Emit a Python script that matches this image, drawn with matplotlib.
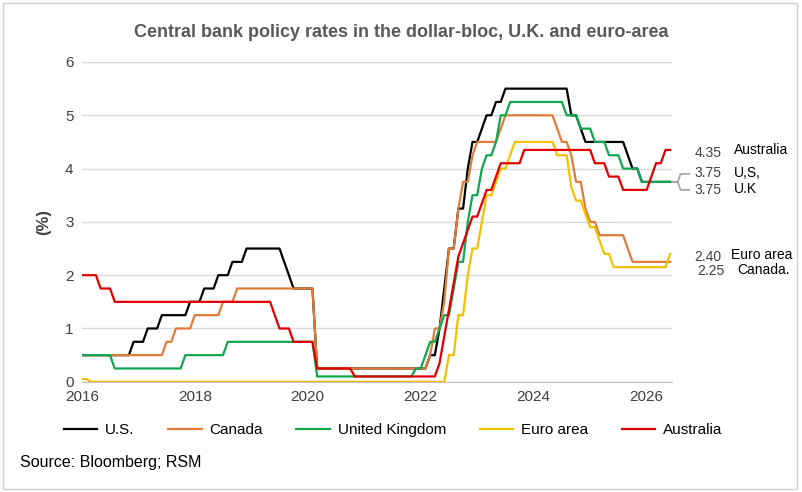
import numpy as np
import matplotlib.pyplot as plt
from matplotlib.patches import Rectangle

plt.rcParams['font.family'] = ['Liberation Sans', 'DejaVu Sans']

# policy rate change points: (year, month, rate)
us = [(2016, 1, 0.5), (2016, 12, 0.75), (2017, 3, 1.0), (2017, 6, 1.25), (2017, 12, 1.5),
      (2018, 3, 1.75), (2018, 6, 2.0), (2018, 9, 2.25), (2018, 12, 2.5), (2019, 8, 2.25),
      (2019, 9, 2.0), (2019, 10, 1.75), (2020, 3, 0.25), (2022, 3, 0.5), (2022, 5, 1.0),
      (2022, 6, 1.75), (2022, 7, 2.5), (2022, 9, 3.25), (2022, 11, 4.0), (2022, 12, 4.5),
      (2023, 2, 4.75), (2023, 3, 5.0), (2023, 5, 5.25), (2023, 7, 5.5), (2024, 9, 5.0),
      (2024, 11, 4.75), (2024, 12, 4.5), (2025, 9, 4.25), (2025, 10, 4.0), (2025, 12, 3.75)]
canada = [(2016, 1, 0.5), (2017, 7, 0.75), (2017, 9, 1.0), (2018, 1, 1.25), (2018, 7, 1.5),
          (2018, 10, 1.75), (2020, 3, 0.25), (2022, 3, 0.5), (2022, 4, 1.0), (2022, 6, 1.5),
          (2022, 7, 2.5), (2022, 9, 3.25), (2022, 10, 3.75), (2022, 12, 4.25), (2023, 1, 4.5),
          (2023, 6, 4.75), (2023, 7, 5.0), (2024, 6, 4.75), (2024, 7, 4.5), (2024, 9, 4.25),
          (2024, 10, 3.75), (2024, 12, 3.25), (2025, 1, 3.0), (2025, 3, 2.75), (2025, 9, 2.5),
          (2025, 10, 2.25)]
uk = [(2016, 1, 0.5), (2016, 8, 0.25), (2017, 11, 0.5), (2018, 8, 0.75), (2020, 3, 0.1),
      (2021, 12, 0.25), (2022, 2, 0.5), (2022, 3, 0.75), (2022, 5, 1.0), (2022, 6, 1.25),
      (2022, 8, 1.75), (2022, 9, 2.25), (2022, 11, 3.0), (2022, 12, 3.5), (2023, 2, 4.0),
      (2023, 3, 4.25), (2023, 5, 4.5), (2023, 6, 5.0), (2023, 8, 5.25), (2024, 8, 5.0),
      (2024, 11, 4.75), (2025, 2, 4.5), (2025, 5, 4.25), (2025, 8, 4.0), (2025, 12, 3.75)]
euro = [(2016, 1, 0.05), (2016, 3, 0.0), (2022, 7, 0.5), (2022, 9, 1.25), (2022, 11, 2.0),
        (2022, 12, 2.5), (2023, 2, 3.0), (2023, 3, 3.5), (2023, 5, 3.75), (2023, 6, 4.0),
        (2023, 8, 4.25), (2023, 9, 4.5), (2024, 6, 4.25), (2024, 9, 3.65), (2024, 10, 3.4),
        (2024, 12, 3.15), (2025, 1, 2.9), (2025, 3, 2.65), (2025, 4, 2.4), (2025, 6, 2.15),
        (2026, 6, 2.4)]
australia = [(2016, 1, 2.0), (2016, 5, 1.75), (2016, 8, 1.5), (2019, 6, 1.25), (2019, 7, 1.0),
             (2019, 10, 0.75), (2020, 3, 0.25), (2020, 11, 0.1), (2022, 5, 0.35), (2022, 6, 0.85),
             (2022, 7, 1.35), (2022, 8, 1.85), (2022, 9, 2.35), (2022, 10, 2.6), (2022, 11, 2.85),
             (2022, 12, 3.1), (2023, 2, 3.35), (2023, 3, 3.6), (2023, 5, 3.85), (2023, 6, 4.1),
             (2023, 11, 4.35), (2025, 2, 4.1), (2025, 5, 3.85), (2025, 8, 3.6), (2026, 2, 3.85),
             (2026, 3, 4.1), (2026, 5, 4.35)]

series = [("U.S.", us, "#000000"), ("Canada", canada, "#E07B39"),
          ("United Kingdom", uk, "#11A650"), ("Euro area", euro, "#F5C000"),
          ("Australia", australia, "#E00000")]

months = [(y, m) for y in range(2016, 2027) for m in range(1, 13) if (y, m) <= (2026, 6)]
x = np.array([y + (m - 1) / 12 for y, m in months])


def monthly(changes):
    out, cur, i = [], changes[0][2], 0
    for ym in months:
        while i < len(changes) and (changes[i][0], changes[i][1]) <= ym:
            cur = changes[i][2]
            i += 1
        out.append(cur)
    return np.array(out)


fig = plt.figure(figsize=(8.02, 4.92), dpi=100)
ax = fig.add_axes([0.102, 0.224, 0.736, 0.65])
for name, ch, col in series:
    ax.plot(x, monthly(ch), color=col, lw=1.6, label=name)

ax.set_xlim(2016, 2026.45)
ax.set_ylim(0, 6)
ax.set_xticks([2016, 2018, 2020, 2022, 2024, 2026])
ax.set_yticks(range(7))
ax.grid(axis='y', color='#d9d9d9', lw=1)
ax.set_axisbelow(True)
for s in ['top', 'right', 'left']:
    ax.spines[s].set_visible(False)
ax.spines['bottom'].set_color('#bfbfbf')
ax.tick_params(length=0, labelsize=11, colors='#404040', pad=6)
ax.set_ylabel('(%)', fontsize=12, color='#404040', fontweight='bold', labelpad=10)

fig.text(0.5, 0.925, 'Central bank policy rates in the dollar-bloc, U.K. and euro-area',
         ha='center', fontsize=13, fontweight='bold', color='#595959')

# right-side labels
tr = ax.transData
ax.text(2026.85, 4.3, '4.35', fontsize=10, color='#404040', va='center', clip_on=False)
ax.text(2027.55, 4.35, 'Australia', fontsize=10, va='center', clip_on=False)
ax.text(2026.85, 3.92, '3.75', fontsize=10, color='#404040', va='center', clip_on=False)
ax.text(2027.55, 3.92, 'U,S,', fontsize=10, va='center', clip_on=False)
ax.text(2026.85, 3.6, '3.75', fontsize=10, color='#404040', va='center', clip_on=False)
ax.text(2027.55, 3.62, 'U.K', fontsize=10, va='center', clip_on=False)
ax.plot([2026.45, 2026.55, 2026.6, 2026.75], [3.75, 3.75, 3.9, 3.9], color='#a6a6a6', lw=1.3, clip_on=False)
ax.plot([2026.45, 2026.55, 2026.6, 2026.75], [3.75, 3.75, 3.6, 3.6], color='#a6a6a6', lw=1.3, clip_on=False)
ax.text(2026.85, 2.35, '2.40', fontsize=10, color='#404040', va='center', clip_on=False)
ax.text(2027.5, 2.37, 'Euro area', fontsize=10, va='center', clip_on=False)
ax.text(2026.9, 2.07, '2.25', fontsize=10, color='#404040', va='center', clip_on=False)
ax.text(2027.6, 2.1, 'Canada.', fontsize=10, va='center', clip_on=False)

fig.legend(loc='center', bbox_to_anchor=(0.49, 0.126), ncol=5, frameon=False,
           fontsize=11, handlelength=2.2, columnspacing=2.2, handletextpad=0.5)
fig.text(0.025, 0.05, 'Source: Bloomberg; RSM', fontsize=11.5, color='#000000')
fig.patches.append(Rectangle((0.004, 0.006), 0.99, 0.988, transform=fig.transFigure,
                             fill=False, edgecolor='#d0d0d0', lw=1))

fig.savefig('out.png', dpi=100)
